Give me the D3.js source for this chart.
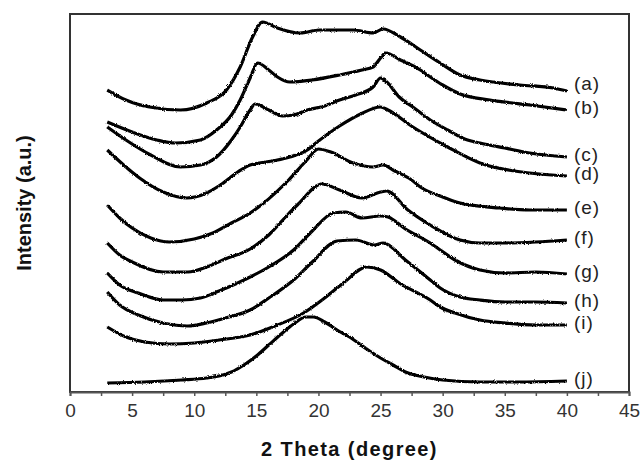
<!DOCTYPE html>
<html>
<head>
<meta charset="utf-8">
<script src="https://cdn.jsdelivr.net/npm/d3@7"></script>
<style>
  body { margin: 0; background: #fff; }
  text { font-family: "Liberation Sans", Arial, sans-serif; }
</style>
</head>
<body>
<div id="chart"></div>
<script>
// Curve labels, top to bottom
const labels = ["(a)", "(b)", "(c)", "(d)", "(e)", "(f)", "(g)", "(h)", "(i)", "(j)"];

// 2 theta / intensity (a.u., stacked)
const curveA = [[3,302],[4.5,292],[6.4,285],[8.9,282],[11,289],[12.6,302],[13.7,325],[14.7,355],[15.5,370],[16.7,364],[18.5,359],[20.1,362],[22.8,362],[24.4,359],[25.2,363],[26.6,355],[28.2,342],[29.8,329],[31.4,317],[33,312],[36.2,307],[38.9,304],[40,301]];
const curveB = [[3,270],[5,260],[7,252],[8.5,249],[10.5,252],[11.8,262],[13,277],[13.7,292],[14.5,314],[15.1,329],[16,322],[16.7,315],[17.7,310],[19.5,312],[21.7,317],[23.5,322],[24.4,325],[25,334],[25.4,339],[26.6,332],[28.2,322],[29,315],[30,307],[31.4,298],[33.8,292],[37,287],[40,282]];
const curveC = [[3,265],[4.5,252],[6.5,237],[8.9,225],[10.5,227],[11.8,235],[13,252],[13.7,265],[14.5,282],[14.9,288],[16,282],[17.1,276],[18,277],[19.1,282],[20.5,286],[21.7,292],[23,297],[24.4,305],[25,314],[25.5,310],[26.5,295],[27.6,285],[29,272],[30.4,262],[32,252],[33,249],[35,244],[37,239],[40,235]];
const curveD = [[3,242],[4.5,225],[5.6,214],[7.5,200],[9.4,194],[11,199],[12.1,207],[13.5,220],[14.5,227],[16.3,231],[17.7,235],[19.1,242],[19.9,250],[21.7,266],[23.4,278],[25,285],[25.6,282],[27.6,265],[30.4,245],[33,229],[37,219],[40,216]];
const curveE = [[3,187],[4,174],[5,164],[6.5,154],[8,150],[10,153],[11.5,159],[13,169],[14.5,179],[15.5,188],[17.6,212],[19,231],[20,243],[21,240],[22.8,229],[24.4,225],[25.2,227],[26,222],[27.5,212],[28.2,205],[29.8,196],[31.4,189],[34.6,184],[37,182],[40,182]];
const curveF = [[3,149],[4,137],[5,130],[7.5,120],[9.5,120],[11,125],[12.5,133],[14.5,143],[16,157],[17.5,177],[18.3,187],[20.3,208],[21.7,202],[23.5,194],[25,200],[25.5,201],[27.2,182],[29,167],[31.4,152],[33,149],[35,149],[37.5,150],[40,152]];
const curveG = [[3,119],[4,107],[5.5,99],[7.5,92],[9,92],[10.5,94],[12,101],[13.5,109],[14.5,115],[16,125],[18,142],[19.5,161],[21.2,179],[22.2,180],[23.5,174],[25,176],[25.6,175],[27,163],[29,149],[29.8,142],[31,132],[33,122],[35,119],[37.5,120],[40,118]];
const curveH = [[3,100],[4,87],[5.5,77],[7.5,69],[9.5,66],[11,69],[12.5,74],[14.5,82],[16,94],[18,112],[19.5,130],[21.5,151],[23,152],[24.5,147],[25.2,149],[27,132],[29,112],[29.8,104],[31.4,95],[33,92],[35,90],[37.5,90],[40,89]];
const curveI = [[3,65],[4.5,55],[6,50],[8,48],[10,49],[12,52],[14.5,57],[16.5,66],[18.8,79],[20.5,94],[22,109],[23.9,125],[25,122],[26.5,109],[29,92],[29.8,85],[31,79],[33,72],[35,69],[37.5,67],[40,67]];
const curveJ = [[3,9],[6,10],[9,12],[11,14],[12,16],[13,20],[14,27],[15,36],[16,47],[17,58],[18,68],[19,75],[19.6,75],[20.5,70],[21.5,62],[22.5,55],[24,42],[25,34],[26,27],[27,20],[28.5,15],[30,12],[33,10],[36,10],[40,11]];

const curves = [curveA, curveB, curveC, curveD, curveE, curveF, curveG, curveH, curveI, curveJ];

const xTicks = d3.range(0, 45.01, 2.5);

// Chart Sizing
const W = 642, H = 461;
const margin = { top: 14, right: 13, bottom: 69, left: 70 };

const svg = d3.select("#chart").append("svg")
    .attr("width", W)
    .attr("height", H);

// rough noisy look of the recorded traces
const filt = svg.append("defs").append("filter")
    .attr("id", "rough")
    .attr("x", "-5%").attr("y", "-5%")
    .attr("width", "110%").attr("height", "110%");
filt.append("feTurbulence")
    .attr("type", "fractalNoise")
    .attr("baseFrequency", "1.1")
    .attr("numOctaves", 2)
    .attr("seed", 3)
    .attr("result", "noise");
filt.append("feDisplacementMap")
    .attr("in", "SourceGraphic")
    .attr("in2", "noise")
    .attr("scale", 2.6)
    .attr("xChannelSelector", "R")
    .attr("yChannelSelector", "G");

const x = d3.scaleLinear().domain([0, 45]).range([margin.left, W - margin.right]);
const y = d3.scaleLinear().domain([0, 378]).range([H - margin.bottom, margin.top]);

// frame
svg.append("rect")
    .attr("x", x(0)).attr("y", y(378))
    .attr("width", x(45) - x(0)).attr("height", y(0) - y(378))
    .attr("fill", "none")
    .attr("stroke", "#333")
    .attr("stroke-width", 2);

// bottom axis
const xAxis = d3.axisBottom(x)
    .tickValues(xTicks)
    .tickSize(4)
    .tickFormat(d => d % 5 === 0 ? d : "");

const gx = svg.append("g")
    .attr("transform", `translate(0,${y(0)})`)
    .call(xAxis);
gx.select(".domain").attr("stroke", "#555").attr("stroke-width", 2);
gx.selectAll(".tick line").attr("stroke", "#555").attr("stroke-width", 1.5);
gx.selectAll(".tick text")
    .attr("dy", "0.95em")
    .attr("fill", "#333")
    .style("font-size", "19px")
    .style("font-family", "Liberation Sans, Arial, sans-serif");

// traces
const line = d3.line()
    .x(d => x(d[0]))
    .y(d => y(d[1]))
    .curve(d3.curveMonotoneX);

svg.append("g")
    .attr("filter", "url(#rough)")
    .selectAll("path")
    .data(curves)
    .enter()
    .append("path")
        .attr("d", line)
        .attr("fill", "none")
        .attr("stroke", "#000")
        .attr("stroke-width", 3.2)
        .attr("stroke-linejoin", "round");

// curve labels
svg.append("g")
    .selectAll("text")
    .data(curves)
    .enter()
    .append("text")
        .attr("x", d => x(d[d.length - 1][0]) + 7)
        .attr("y", (d, i) => y(d[d.length - 1][1]) - (i === 0 ? 6 : 1))
        .attr("dominant-baseline", "middle")
        .attr("fill", "#222")
        .style("font-size", "19px")
        .style("letter-spacing", "1px")
        .text((d, i) => labels[i]);

// axis titles
svg.append("text")
    .attr("x", (x(0) + x(45)) / 2)
    .attr("y", 456)
    .attr("text-anchor", "middle")
    .style("font-size", "20px")
    .style("font-weight", "bold")
    .style("letter-spacing", "1.4px")
    .attr("fill", "#111")
    .text("2 Theta (degree)");

svg.append("text")
    .attr("transform", `translate(31,${(y(0) + y(378)) / 2}) rotate(-90)`)
    .attr("text-anchor", "middle")
    .style("font-size", "20px")
    .style("font-weight", "bold")
    .attr("fill", "#111")
    .text("Intensity (a.u.)");
</script>
</body>
</html>
